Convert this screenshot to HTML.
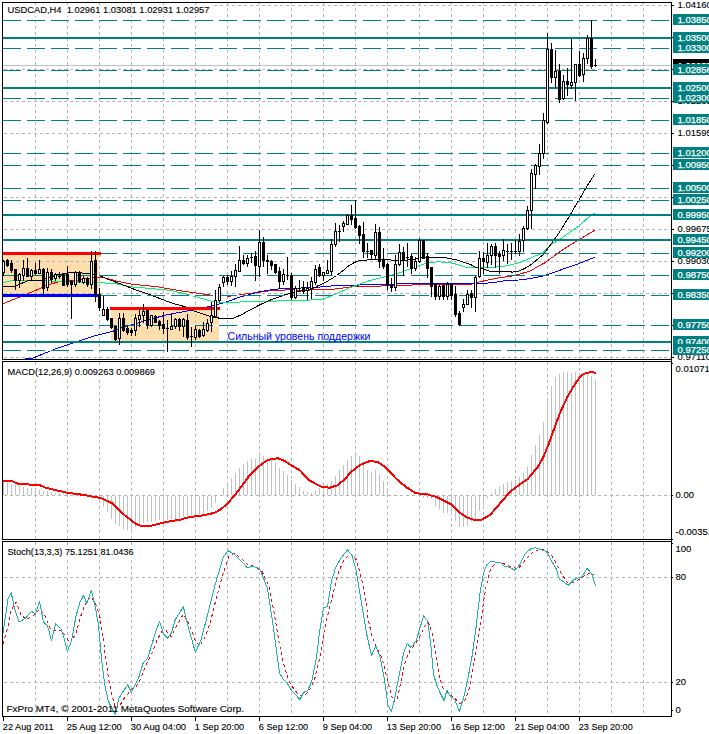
<!DOCTYPE html>
<html><head><meta charset="utf-8"><title>USDCAD,H4</title>
<style>html,body{margin:0;padding:0;background:#fff}text{stroke-width:0.25px}text[fill="#000"]{stroke-width:0.12px}text[fill="#000"]{stroke:#000}text[fill="#fff"]{stroke:#fff}body{width:709px;height:734px;overflow:hidden}</style></head>
<body>
<svg width="709" height="734" viewBox="0 0 709 734" style="display:block;font-family:'Liberation Sans',sans-serif;font-size:9.5px">
<defs><clipPath id="cpm"><rect x="3" y="3" width="668" height="356"/></clipPath></defs>
<rect x="0" y="0" width="709" height="734" fill="#fff"/>
<rect x="3" y="254" width="96" height="40" fill="#fedeaf"/>
<rect x="111" y="309" width="108" height="33" fill="#fedeaf"/>
<g shape-rendering="crispEdges" stroke="#b4b4b4" stroke-width="1" stroke-dasharray="3 3" fill="none">
<line x1="35.5" y1="3" x2="35.5" y2="359" stroke-dashoffset="1"/>
<line x1="35.5" y1="362" x2="35.5" y2="539" stroke-dashoffset="0"/>
<line x1="35.5" y1="542" x2="35.5" y2="716" stroke-dashoffset="0"/>
<line x1="67.5" y1="3" x2="67.5" y2="359" stroke-dashoffset="1"/>
<line x1="67.5" y1="362" x2="67.5" y2="539" stroke-dashoffset="0"/>
<line x1="67.5" y1="542" x2="67.5" y2="716" stroke-dashoffset="0"/>
<line x1="99.5" y1="3" x2="99.5" y2="359" stroke-dashoffset="1"/>
<line x1="99.5" y1="362" x2="99.5" y2="539" stroke-dashoffset="0"/>
<line x1="99.5" y1="542" x2="99.5" y2="716" stroke-dashoffset="0"/>
<line x1="131.5" y1="3" x2="131.5" y2="359" stroke-dashoffset="1"/>
<line x1="131.5" y1="362" x2="131.5" y2="539" stroke-dashoffset="0"/>
<line x1="131.5" y1="542" x2="131.5" y2="716" stroke-dashoffset="0"/>
<line x1="163.5" y1="3" x2="163.5" y2="359" stroke-dashoffset="1"/>
<line x1="163.5" y1="362" x2="163.5" y2="539" stroke-dashoffset="0"/>
<line x1="163.5" y1="542" x2="163.5" y2="716" stroke-dashoffset="0"/>
<line x1="195.5" y1="3" x2="195.5" y2="359" stroke-dashoffset="1"/>
<line x1="195.5" y1="362" x2="195.5" y2="539" stroke-dashoffset="0"/>
<line x1="195.5" y1="542" x2="195.5" y2="716" stroke-dashoffset="0"/>
<line x1="227.5" y1="3" x2="227.5" y2="359" stroke-dashoffset="1"/>
<line x1="227.5" y1="362" x2="227.5" y2="539" stroke-dashoffset="0"/>
<line x1="227.5" y1="542" x2="227.5" y2="716" stroke-dashoffset="0"/>
<line x1="259.5" y1="3" x2="259.5" y2="359" stroke-dashoffset="1"/>
<line x1="259.5" y1="362" x2="259.5" y2="539" stroke-dashoffset="0"/>
<line x1="259.5" y1="542" x2="259.5" y2="716" stroke-dashoffset="0"/>
<line x1="291.5" y1="3" x2="291.5" y2="359" stroke-dashoffset="1"/>
<line x1="291.5" y1="362" x2="291.5" y2="539" stroke-dashoffset="0"/>
<line x1="291.5" y1="542" x2="291.5" y2="716" stroke-dashoffset="0"/>
<line x1="323.5" y1="3" x2="323.5" y2="359" stroke-dashoffset="1"/>
<line x1="323.5" y1="362" x2="323.5" y2="539" stroke-dashoffset="0"/>
<line x1="323.5" y1="542" x2="323.5" y2="716" stroke-dashoffset="0"/>
<line x1="355.5" y1="3" x2="355.5" y2="359" stroke-dashoffset="1"/>
<line x1="355.5" y1="362" x2="355.5" y2="539" stroke-dashoffset="0"/>
<line x1="355.5" y1="542" x2="355.5" y2="716" stroke-dashoffset="0"/>
<line x1="387.5" y1="3" x2="387.5" y2="359" stroke-dashoffset="1"/>
<line x1="387.5" y1="362" x2="387.5" y2="539" stroke-dashoffset="0"/>
<line x1="387.5" y1="542" x2="387.5" y2="716" stroke-dashoffset="0"/>
<line x1="419.5" y1="3" x2="419.5" y2="359" stroke-dashoffset="1"/>
<line x1="419.5" y1="362" x2="419.5" y2="539" stroke-dashoffset="0"/>
<line x1="419.5" y1="542" x2="419.5" y2="716" stroke-dashoffset="0"/>
<line x1="451.5" y1="3" x2="451.5" y2="359" stroke-dashoffset="1"/>
<line x1="451.5" y1="362" x2="451.5" y2="539" stroke-dashoffset="0"/>
<line x1="451.5" y1="542" x2="451.5" y2="716" stroke-dashoffset="0"/>
<line x1="483.5" y1="3" x2="483.5" y2="359" stroke-dashoffset="1"/>
<line x1="483.5" y1="362" x2="483.5" y2="539" stroke-dashoffset="0"/>
<line x1="483.5" y1="542" x2="483.5" y2="716" stroke-dashoffset="0"/>
<line x1="515.5" y1="3" x2="515.5" y2="359" stroke-dashoffset="1"/>
<line x1="515.5" y1="362" x2="515.5" y2="539" stroke-dashoffset="0"/>
<line x1="515.5" y1="542" x2="515.5" y2="716" stroke-dashoffset="0"/>
<line x1="547.5" y1="3" x2="547.5" y2="359" stroke-dashoffset="1"/>
<line x1="547.5" y1="362" x2="547.5" y2="539" stroke-dashoffset="0"/>
<line x1="547.5" y1="542" x2="547.5" y2="716" stroke-dashoffset="0"/>
<line x1="579.5" y1="3" x2="579.5" y2="359" stroke-dashoffset="1"/>
<line x1="579.5" y1="362" x2="579.5" y2="539" stroke-dashoffset="0"/>
<line x1="579.5" y1="542" x2="579.5" y2="716" stroke-dashoffset="0"/>
<line x1="611.5" y1="3" x2="611.5" y2="359" stroke-dashoffset="1"/>
<line x1="611.5" y1="362" x2="611.5" y2="539" stroke-dashoffset="0"/>
<line x1="611.5" y1="542" x2="611.5" y2="716" stroke-dashoffset="0"/>
<line x1="643.5" y1="3" x2="643.5" y2="359" stroke-dashoffset="1"/>
<line x1="643.5" y1="362" x2="643.5" y2="539" stroke-dashoffset="0"/>
<line x1="643.5" y1="542" x2="643.5" y2="716" stroke-dashoffset="0"/>
<line x1="3" y1="5.5" x2="671" y2="5.5" stroke-dashoffset="5"/>
<line x1="3" y1="37.5" x2="671" y2="37.5" stroke-dashoffset="5"/>
<line x1="3" y1="69.5" x2="671" y2="69.5" stroke-dashoffset="5"/>
<line x1="3" y1="101.5" x2="671" y2="101.5" stroke-dashoffset="5"/>
<line x1="3" y1="133.5" x2="671" y2="133.5" stroke-dashoffset="5"/>
<line x1="3" y1="165.5" x2="671" y2="165.5" stroke-dashoffset="5"/>
<line x1="3" y1="197.5" x2="671" y2="197.5" stroke-dashoffset="5"/>
<line x1="3" y1="229.5" x2="671" y2="229.5" stroke-dashoffset="5"/>
<line x1="3" y1="261.5" x2="671" y2="261.5" stroke-dashoffset="5"/>
<line x1="3" y1="293.5" x2="671" y2="293.5" stroke-dashoffset="5"/>
<line x1="3" y1="325.5" x2="671" y2="325.5" stroke-dashoffset="5"/>
<line x1="3" y1="357.5" x2="671" y2="357.5" stroke-dashoffset="5"/>
<line x1="3" y1="495.5" x2="671" y2="495.5" stroke-dashoffset="5"/>
<line x1="3" y1="577.5" x2="671" y2="577.5" stroke-dashoffset="5"/>
<line x1="3" y1="682.5" x2="671" y2="682.5" stroke-dashoffset="5"/>
</g>
<g shape-rendering="crispEdges" stroke-width="1" stroke-dasharray="3 3" fill="none">
<line x1="35.5" y1="255" x2="35.5" y2="294" stroke="#a4e088" stroke-dashoffset="1"/>
<line x1="67.5" y1="255" x2="67.5" y2="294" stroke="#a4e088" stroke-dashoffset="1"/>
<line x1="131.5" y1="310" x2="131.5" y2="342" stroke="#a4e088" stroke-dashoffset="2"/>
<line x1="163.5" y1="310" x2="163.5" y2="342" stroke="#a4e088" stroke-dashoffset="2"/>
<line x1="195.5" y1="310" x2="195.5" y2="342" stroke="#a4e088" stroke-dashoffset="2"/>
<line x1="3" y1="261.5" x2="99" y2="261.5" stroke="#aab4cc" stroke-dashoffset="5"/>
<line x1="3" y1="293.5" x2="99" y2="293.5" stroke="#aab4cc" stroke-dashoffset="5"/>
</g>
<g clip-path="url(#cpm)">
<polyline points="3.0,303.7 18.0,297.7 35.0,290.7 48.0,284.8 60.0,281.5 77.0,280.3 95.0,277.5 103.0,277.5 117.0,281.2 130.0,283.9 158.0,286.9 183.0,291.2 206.0,294.5 210.0,295.0 222.0,295.4 229.0,296.2 236.0,295.5 244.0,294.1 258.0,292.4 271.0,290.6 288.0,289.9 304.0,290.2 334.0,289.2 352.0,286.8 404.0,285.4 418.0,284.7 471.0,284.2 477.0,282.5 490.0,279.5 500.0,277.7 512.0,276.0 521.0,273.7 530.0,271.2 535.0,268.2 545.0,262.7 557.0,253.8 568.7,245.9 578.6,240.0 588.5,234.0 595.0,230.1" fill="none" stroke="#ff0000" stroke-width="1" stroke-linejoin="round" shape-rendering="crispEdges"/>
<polyline points="25.5,358.6 32.0,358.4 41.2,354.7 49.6,351.3 53.9,349.5 62.3,346.7 69.4,344.1 77.8,341.5 86.3,338.6 94.8,335.8 104.6,333.3 113.0,331.2 118.7,328.8 130.0,325.5 138.0,322.9 152.0,318.7 166.0,315.1 180.0,312.3 192.0,310.2 209.0,306.5 225.0,302.5 240.0,297.0 250.0,294.4 258.0,292.0 275.0,289.2 291.0,288.2 312.0,287.8 334.0,285.7 404.0,283.8 440.0,283.3 484.0,283.4 495.0,282.4 505.0,280.7 516.0,280.3 529.0,278.8 545.0,275.5 559.0,270.6 568.7,267.0 578.6,263.7 588.5,259.7 595.0,257.2" fill="none" stroke="#0000ff" stroke-width="1" stroke-linejoin="round" shape-rendering="crispEdges"/>
<polyline points="3.0,282.6 11.0,280.8 37.0,280.3 55.0,281.2 77.0,282.1 99.0,282.6 117.0,283.9 130.0,286.7 150.0,288.5 170.0,290.3 187.0,294.3 204.0,299.1 215.0,302.2 224.0,302.7 250.0,301.6 304.0,300.4 323.0,299.2 336.0,294.0 349.0,288.0 370.0,280.5 385.0,276.7 396.0,274.2 411.0,268.5 426.0,263.2 438.0,261.7 453.0,263.2 466.0,267.3 477.0,267.7 487.0,267.6 504.0,266.3 512.0,264.6 521.0,262.1 529.0,258.7 543.0,252.8 549.0,245.9 559.0,240.0 568.7,233.0 578.6,226.2 588.5,217.3 594.5,212.9" fill="none" stroke="#00f078" stroke-width="1" stroke-linejoin="round" shape-rendering="crispEdges"/>
<polyline points="3.0,286.4 15.0,286.4 19.0,284.5 23.0,282.8 27.0,281.0 40.0,280.8 56.0,275.2 64.0,273.5 73.0,272.5 90.0,273.5 99.0,275.5 107.0,279.0 117.0,282.5 130.0,287.6 136.0,290.0 150.0,294.7 170.0,302.5 185.0,306.7 193.0,310.6 210.0,316.3 220.0,318.3 233.0,318.3 241.0,315.0 250.0,310.0 260.0,304.7 271.0,299.8 285.0,294.8 299.0,291.3 312.0,289.2 317.0,286.2 323.5,283.5 336.0,276.0 343.0,270.7 349.0,265.5 355.0,262.2 359.0,260.8 376.0,259.2 404.0,260.7 426.0,257.2 445.0,257.7 456.0,259.8 470.0,264.2 475.0,267.0 483.0,268.8 490.0,271.4 510.0,271.4 512.0,272.2 519.0,271.0 525.0,268.4 531.0,264.7 543.0,254.8 549.0,246.9 559.0,233.0 568.7,217.3 578.6,200.5 588.5,183.7 595.0,173.8" fill="none" stroke="#000" stroke-width="1" stroke-linejoin="round" shape-rendering="crispEdges"/>
</g>
<g shape-rendering="crispEdges">
<rect x="3" y="20" width="668" height="1" fill="#fff"/>
<rect x="3" y="20" width="18" height="1" fill="#008080"/>
<rect x="27" y="20" width="18" height="1" fill="#008080"/>
<rect x="51" y="20" width="18" height="1" fill="#008080"/>
<rect x="75" y="20" width="18" height="1" fill="#008080"/>
<rect x="99" y="20" width="18" height="1" fill="#008080"/>
<rect x="123" y="20" width="18" height="1" fill="#008080"/>
<rect x="147" y="20" width="18" height="1" fill="#008080"/>
<rect x="171" y="20" width="18" height="1" fill="#008080"/>
<rect x="195" y="20" width="18" height="1" fill="#008080"/>
<rect x="219" y="20" width="18" height="1" fill="#008080"/>
<rect x="243" y="20" width="18" height="1" fill="#008080"/>
<rect x="267" y="20" width="18" height="1" fill="#008080"/>
<rect x="291" y="20" width="18" height="1" fill="#008080"/>
<rect x="315" y="20" width="18" height="1" fill="#008080"/>
<rect x="339" y="20" width="18" height="1" fill="#008080"/>
<rect x="363" y="20" width="18" height="1" fill="#008080"/>
<rect x="387" y="20" width="18" height="1" fill="#008080"/>
<rect x="411" y="20" width="18" height="1" fill="#008080"/>
<rect x="435" y="20" width="18" height="1" fill="#008080"/>
<rect x="459" y="20" width="18" height="1" fill="#008080"/>
<rect x="483" y="20" width="18" height="1" fill="#008080"/>
<rect x="507" y="20" width="18" height="1" fill="#008080"/>
<rect x="531" y="20" width="18" height="1" fill="#008080"/>
<rect x="555" y="20" width="18" height="1" fill="#008080"/>
<rect x="579" y="20" width="18" height="1" fill="#008080"/>
<rect x="603" y="20" width="18" height="1" fill="#008080"/>
<rect x="627" y="20" width="18" height="1" fill="#008080"/>
<rect x="651" y="20" width="18" height="1" fill="#008080"/>
<rect x="3" y="48" width="668" height="1" fill="#fff"/>
<rect x="3" y="48" width="18" height="1" fill="#008080"/>
<rect x="27" y="48" width="18" height="1" fill="#008080"/>
<rect x="51" y="48" width="18" height="1" fill="#008080"/>
<rect x="75" y="48" width="18" height="1" fill="#008080"/>
<rect x="99" y="48" width="18" height="1" fill="#008080"/>
<rect x="123" y="48" width="18" height="1" fill="#008080"/>
<rect x="147" y="48" width="18" height="1" fill="#008080"/>
<rect x="171" y="48" width="18" height="1" fill="#008080"/>
<rect x="195" y="48" width="18" height="1" fill="#008080"/>
<rect x="219" y="48" width="18" height="1" fill="#008080"/>
<rect x="243" y="48" width="18" height="1" fill="#008080"/>
<rect x="267" y="48" width="18" height="1" fill="#008080"/>
<rect x="291" y="48" width="18" height="1" fill="#008080"/>
<rect x="315" y="48" width="18" height="1" fill="#008080"/>
<rect x="339" y="48" width="18" height="1" fill="#008080"/>
<rect x="363" y="48" width="18" height="1" fill="#008080"/>
<rect x="387" y="48" width="18" height="1" fill="#008080"/>
<rect x="411" y="48" width="18" height="1" fill="#008080"/>
<rect x="435" y="48" width="18" height="1" fill="#008080"/>
<rect x="459" y="48" width="18" height="1" fill="#008080"/>
<rect x="483" y="48" width="18" height="1" fill="#008080"/>
<rect x="507" y="48" width="18" height="1" fill="#008080"/>
<rect x="531" y="48" width="18" height="1" fill="#008080"/>
<rect x="555" y="48" width="18" height="1" fill="#008080"/>
<rect x="579" y="48" width="18" height="1" fill="#008080"/>
<rect x="603" y="48" width="18" height="1" fill="#008080"/>
<rect x="627" y="48" width="18" height="1" fill="#008080"/>
<rect x="651" y="48" width="18" height="1" fill="#008080"/>
<rect x="3" y="70" width="668" height="1" fill="#fff"/>
<rect x="3" y="70" width="18" height="1" fill="#008080"/>
<rect x="27" y="70" width="18" height="1" fill="#008080"/>
<rect x="51" y="70" width="18" height="1" fill="#008080"/>
<rect x="75" y="70" width="18" height="1" fill="#008080"/>
<rect x="99" y="70" width="18" height="1" fill="#008080"/>
<rect x="123" y="70" width="18" height="1" fill="#008080"/>
<rect x="147" y="70" width="18" height="1" fill="#008080"/>
<rect x="171" y="70" width="18" height="1" fill="#008080"/>
<rect x="195" y="70" width="18" height="1" fill="#008080"/>
<rect x="219" y="70" width="18" height="1" fill="#008080"/>
<rect x="243" y="70" width="18" height="1" fill="#008080"/>
<rect x="267" y="70" width="18" height="1" fill="#008080"/>
<rect x="291" y="70" width="18" height="1" fill="#008080"/>
<rect x="315" y="70" width="18" height="1" fill="#008080"/>
<rect x="339" y="70" width="18" height="1" fill="#008080"/>
<rect x="363" y="70" width="18" height="1" fill="#008080"/>
<rect x="387" y="70" width="18" height="1" fill="#008080"/>
<rect x="411" y="70" width="18" height="1" fill="#008080"/>
<rect x="435" y="70" width="18" height="1" fill="#008080"/>
<rect x="459" y="70" width="18" height="1" fill="#008080"/>
<rect x="483" y="70" width="18" height="1" fill="#008080"/>
<rect x="507" y="70" width="18" height="1" fill="#008080"/>
<rect x="531" y="70" width="18" height="1" fill="#008080"/>
<rect x="555" y="70" width="18" height="1" fill="#008080"/>
<rect x="579" y="70" width="18" height="1" fill="#008080"/>
<rect x="603" y="70" width="18" height="1" fill="#008080"/>
<rect x="627" y="70" width="18" height="1" fill="#008080"/>
<rect x="651" y="70" width="18" height="1" fill="#008080"/>
<rect x="3" y="98" width="668" height="1" fill="#fff"/>
<rect x="3" y="98" width="18" height="1" fill="#008080"/>
<rect x="27" y="98" width="18" height="1" fill="#008080"/>
<rect x="51" y="98" width="18" height="1" fill="#008080"/>
<rect x="75" y="98" width="18" height="1" fill="#008080"/>
<rect x="99" y="98" width="18" height="1" fill="#008080"/>
<rect x="123" y="98" width="18" height="1" fill="#008080"/>
<rect x="147" y="98" width="18" height="1" fill="#008080"/>
<rect x="171" y="98" width="18" height="1" fill="#008080"/>
<rect x="195" y="98" width="18" height="1" fill="#008080"/>
<rect x="219" y="98" width="18" height="1" fill="#008080"/>
<rect x="243" y="98" width="18" height="1" fill="#008080"/>
<rect x="267" y="98" width="18" height="1" fill="#008080"/>
<rect x="291" y="98" width="18" height="1" fill="#008080"/>
<rect x="315" y="98" width="18" height="1" fill="#008080"/>
<rect x="339" y="98" width="18" height="1" fill="#008080"/>
<rect x="363" y="98" width="18" height="1" fill="#008080"/>
<rect x="387" y="98" width="18" height="1" fill="#008080"/>
<rect x="411" y="98" width="18" height="1" fill="#008080"/>
<rect x="435" y="98" width="18" height="1" fill="#008080"/>
<rect x="459" y="98" width="18" height="1" fill="#008080"/>
<rect x="483" y="98" width="18" height="1" fill="#008080"/>
<rect x="507" y="98" width="18" height="1" fill="#008080"/>
<rect x="531" y="98" width="18" height="1" fill="#008080"/>
<rect x="555" y="98" width="18" height="1" fill="#008080"/>
<rect x="579" y="98" width="18" height="1" fill="#008080"/>
<rect x="603" y="98" width="18" height="1" fill="#008080"/>
<rect x="627" y="98" width="18" height="1" fill="#008080"/>
<rect x="651" y="98" width="18" height="1" fill="#008080"/>
<rect x="3" y="120" width="668" height="1" fill="#fff"/>
<rect x="3" y="120" width="18" height="1" fill="#008080"/>
<rect x="27" y="120" width="18" height="1" fill="#008080"/>
<rect x="51" y="120" width="18" height="1" fill="#008080"/>
<rect x="75" y="120" width="18" height="1" fill="#008080"/>
<rect x="99" y="120" width="18" height="1" fill="#008080"/>
<rect x="123" y="120" width="18" height="1" fill="#008080"/>
<rect x="147" y="120" width="18" height="1" fill="#008080"/>
<rect x="171" y="120" width="18" height="1" fill="#008080"/>
<rect x="195" y="120" width="18" height="1" fill="#008080"/>
<rect x="219" y="120" width="18" height="1" fill="#008080"/>
<rect x="243" y="120" width="18" height="1" fill="#008080"/>
<rect x="267" y="120" width="18" height="1" fill="#008080"/>
<rect x="291" y="120" width="18" height="1" fill="#008080"/>
<rect x="315" y="120" width="18" height="1" fill="#008080"/>
<rect x="339" y="120" width="18" height="1" fill="#008080"/>
<rect x="363" y="120" width="18" height="1" fill="#008080"/>
<rect x="387" y="120" width="18" height="1" fill="#008080"/>
<rect x="411" y="120" width="18" height="1" fill="#008080"/>
<rect x="435" y="120" width="18" height="1" fill="#008080"/>
<rect x="459" y="120" width="18" height="1" fill="#008080"/>
<rect x="483" y="120" width="18" height="1" fill="#008080"/>
<rect x="507" y="120" width="18" height="1" fill="#008080"/>
<rect x="531" y="120" width="18" height="1" fill="#008080"/>
<rect x="555" y="120" width="18" height="1" fill="#008080"/>
<rect x="579" y="120" width="18" height="1" fill="#008080"/>
<rect x="603" y="120" width="18" height="1" fill="#008080"/>
<rect x="627" y="120" width="18" height="1" fill="#008080"/>
<rect x="651" y="120" width="18" height="1" fill="#008080"/>
<rect x="3" y="153" width="668" height="1" fill="#fff"/>
<rect x="3" y="153" width="18" height="1" fill="#008080"/>
<rect x="27" y="153" width="18" height="1" fill="#008080"/>
<rect x="51" y="153" width="18" height="1" fill="#008080"/>
<rect x="75" y="153" width="18" height="1" fill="#008080"/>
<rect x="99" y="153" width="18" height="1" fill="#008080"/>
<rect x="123" y="153" width="18" height="1" fill="#008080"/>
<rect x="147" y="153" width="18" height="1" fill="#008080"/>
<rect x="171" y="153" width="18" height="1" fill="#008080"/>
<rect x="195" y="153" width="18" height="1" fill="#008080"/>
<rect x="219" y="153" width="18" height="1" fill="#008080"/>
<rect x="243" y="153" width="18" height="1" fill="#008080"/>
<rect x="267" y="153" width="18" height="1" fill="#008080"/>
<rect x="291" y="153" width="18" height="1" fill="#008080"/>
<rect x="315" y="153" width="18" height="1" fill="#008080"/>
<rect x="339" y="153" width="18" height="1" fill="#008080"/>
<rect x="363" y="153" width="18" height="1" fill="#008080"/>
<rect x="387" y="153" width="18" height="1" fill="#008080"/>
<rect x="411" y="153" width="18" height="1" fill="#008080"/>
<rect x="435" y="153" width="18" height="1" fill="#008080"/>
<rect x="459" y="153" width="18" height="1" fill="#008080"/>
<rect x="483" y="153" width="18" height="1" fill="#008080"/>
<rect x="507" y="153" width="18" height="1" fill="#008080"/>
<rect x="531" y="153" width="18" height="1" fill="#008080"/>
<rect x="555" y="153" width="18" height="1" fill="#008080"/>
<rect x="579" y="153" width="18" height="1" fill="#008080"/>
<rect x="603" y="153" width="18" height="1" fill="#008080"/>
<rect x="627" y="153" width="18" height="1" fill="#008080"/>
<rect x="651" y="153" width="18" height="1" fill="#008080"/>
<rect x="3" y="165" width="668" height="1" fill="#fff"/>
<rect x="3" y="165" width="18" height="1" fill="#008080"/>
<rect x="27" y="165" width="18" height="1" fill="#008080"/>
<rect x="51" y="165" width="18" height="1" fill="#008080"/>
<rect x="75" y="165" width="18" height="1" fill="#008080"/>
<rect x="99" y="165" width="18" height="1" fill="#008080"/>
<rect x="123" y="165" width="18" height="1" fill="#008080"/>
<rect x="147" y="165" width="18" height="1" fill="#008080"/>
<rect x="171" y="165" width="18" height="1" fill="#008080"/>
<rect x="195" y="165" width="18" height="1" fill="#008080"/>
<rect x="219" y="165" width="18" height="1" fill="#008080"/>
<rect x="243" y="165" width="18" height="1" fill="#008080"/>
<rect x="267" y="165" width="18" height="1" fill="#008080"/>
<rect x="291" y="165" width="18" height="1" fill="#008080"/>
<rect x="315" y="165" width="18" height="1" fill="#008080"/>
<rect x="339" y="165" width="18" height="1" fill="#008080"/>
<rect x="363" y="165" width="18" height="1" fill="#008080"/>
<rect x="387" y="165" width="18" height="1" fill="#008080"/>
<rect x="411" y="165" width="18" height="1" fill="#008080"/>
<rect x="435" y="165" width="18" height="1" fill="#008080"/>
<rect x="459" y="165" width="18" height="1" fill="#008080"/>
<rect x="483" y="165" width="18" height="1" fill="#008080"/>
<rect x="507" y="165" width="18" height="1" fill="#008080"/>
<rect x="531" y="165" width="18" height="1" fill="#008080"/>
<rect x="555" y="165" width="18" height="1" fill="#008080"/>
<rect x="579" y="165" width="18" height="1" fill="#008080"/>
<rect x="603" y="165" width="18" height="1" fill="#008080"/>
<rect x="627" y="165" width="18" height="1" fill="#008080"/>
<rect x="651" y="165" width="18" height="1" fill="#008080"/>
<rect x="3" y="188" width="668" height="1" fill="#fff"/>
<rect x="3" y="188" width="18" height="1" fill="#008080"/>
<rect x="27" y="188" width="18" height="1" fill="#008080"/>
<rect x="51" y="188" width="18" height="1" fill="#008080"/>
<rect x="75" y="188" width="18" height="1" fill="#008080"/>
<rect x="99" y="188" width="18" height="1" fill="#008080"/>
<rect x="123" y="188" width="18" height="1" fill="#008080"/>
<rect x="147" y="188" width="18" height="1" fill="#008080"/>
<rect x="171" y="188" width="18" height="1" fill="#008080"/>
<rect x="195" y="188" width="18" height="1" fill="#008080"/>
<rect x="219" y="188" width="18" height="1" fill="#008080"/>
<rect x="243" y="188" width="18" height="1" fill="#008080"/>
<rect x="267" y="188" width="18" height="1" fill="#008080"/>
<rect x="291" y="188" width="18" height="1" fill="#008080"/>
<rect x="315" y="188" width="18" height="1" fill="#008080"/>
<rect x="339" y="188" width="18" height="1" fill="#008080"/>
<rect x="363" y="188" width="18" height="1" fill="#008080"/>
<rect x="387" y="188" width="18" height="1" fill="#008080"/>
<rect x="411" y="188" width="18" height="1" fill="#008080"/>
<rect x="435" y="188" width="18" height="1" fill="#008080"/>
<rect x="459" y="188" width="18" height="1" fill="#008080"/>
<rect x="483" y="188" width="18" height="1" fill="#008080"/>
<rect x="507" y="188" width="18" height="1" fill="#008080"/>
<rect x="531" y="188" width="18" height="1" fill="#008080"/>
<rect x="555" y="188" width="18" height="1" fill="#008080"/>
<rect x="579" y="188" width="18" height="1" fill="#008080"/>
<rect x="603" y="188" width="18" height="1" fill="#008080"/>
<rect x="627" y="188" width="18" height="1" fill="#008080"/>
<rect x="651" y="188" width="18" height="1" fill="#008080"/>
<rect x="3" y="200" width="668" height="1" fill="#fff"/>
<rect x="3" y="200" width="18" height="1" fill="#008080"/>
<rect x="27" y="200" width="18" height="1" fill="#008080"/>
<rect x="51" y="200" width="18" height="1" fill="#008080"/>
<rect x="75" y="200" width="18" height="1" fill="#008080"/>
<rect x="99" y="200" width="18" height="1" fill="#008080"/>
<rect x="123" y="200" width="18" height="1" fill="#008080"/>
<rect x="147" y="200" width="18" height="1" fill="#008080"/>
<rect x="171" y="200" width="18" height="1" fill="#008080"/>
<rect x="195" y="200" width="18" height="1" fill="#008080"/>
<rect x="219" y="200" width="18" height="1" fill="#008080"/>
<rect x="243" y="200" width="18" height="1" fill="#008080"/>
<rect x="267" y="200" width="18" height="1" fill="#008080"/>
<rect x="291" y="200" width="18" height="1" fill="#008080"/>
<rect x="315" y="200" width="18" height="1" fill="#008080"/>
<rect x="339" y="200" width="18" height="1" fill="#008080"/>
<rect x="363" y="200" width="18" height="1" fill="#008080"/>
<rect x="387" y="200" width="18" height="1" fill="#008080"/>
<rect x="411" y="200" width="18" height="1" fill="#008080"/>
<rect x="435" y="200" width="18" height="1" fill="#008080"/>
<rect x="459" y="200" width="18" height="1" fill="#008080"/>
<rect x="483" y="200" width="18" height="1" fill="#008080"/>
<rect x="507" y="200" width="18" height="1" fill="#008080"/>
<rect x="531" y="200" width="18" height="1" fill="#008080"/>
<rect x="555" y="200" width="18" height="1" fill="#008080"/>
<rect x="579" y="200" width="18" height="1" fill="#008080"/>
<rect x="603" y="200" width="18" height="1" fill="#008080"/>
<rect x="627" y="200" width="18" height="1" fill="#008080"/>
<rect x="651" y="200" width="18" height="1" fill="#008080"/>
<rect x="3" y="253" width="668" height="1" fill="#fff"/>
<rect x="3" y="253" width="18" height="1" fill="#008080"/>
<rect x="27" y="253" width="18" height="1" fill="#008080"/>
<rect x="51" y="253" width="18" height="1" fill="#008080"/>
<rect x="75" y="253" width="18" height="1" fill="#008080"/>
<rect x="99" y="253" width="18" height="1" fill="#008080"/>
<rect x="123" y="253" width="18" height="1" fill="#008080"/>
<rect x="147" y="253" width="18" height="1" fill="#008080"/>
<rect x="171" y="253" width="18" height="1" fill="#008080"/>
<rect x="195" y="253" width="18" height="1" fill="#008080"/>
<rect x="219" y="253" width="18" height="1" fill="#008080"/>
<rect x="243" y="253" width="18" height="1" fill="#008080"/>
<rect x="267" y="253" width="18" height="1" fill="#008080"/>
<rect x="291" y="253" width="18" height="1" fill="#008080"/>
<rect x="315" y="253" width="18" height="1" fill="#008080"/>
<rect x="339" y="253" width="18" height="1" fill="#008080"/>
<rect x="363" y="253" width="18" height="1" fill="#008080"/>
<rect x="387" y="253" width="18" height="1" fill="#008080"/>
<rect x="411" y="253" width="18" height="1" fill="#008080"/>
<rect x="435" y="253" width="18" height="1" fill="#008080"/>
<rect x="459" y="253" width="18" height="1" fill="#008080"/>
<rect x="483" y="253" width="18" height="1" fill="#008080"/>
<rect x="507" y="253" width="18" height="1" fill="#008080"/>
<rect x="531" y="253" width="18" height="1" fill="#008080"/>
<rect x="555" y="253" width="18" height="1" fill="#008080"/>
<rect x="579" y="253" width="18" height="1" fill="#008080"/>
<rect x="603" y="253" width="18" height="1" fill="#008080"/>
<rect x="627" y="253" width="18" height="1" fill="#008080"/>
<rect x="651" y="253" width="18" height="1" fill="#008080"/>
<rect x="3" y="275" width="668" height="1" fill="#fff"/>
<rect x="3" y="275" width="18" height="1" fill="#008080"/>
<rect x="27" y="275" width="18" height="1" fill="#008080"/>
<rect x="51" y="275" width="18" height="1" fill="#008080"/>
<rect x="75" y="275" width="18" height="1" fill="#008080"/>
<rect x="99" y="275" width="18" height="1" fill="#008080"/>
<rect x="123" y="275" width="18" height="1" fill="#008080"/>
<rect x="147" y="275" width="18" height="1" fill="#008080"/>
<rect x="171" y="275" width="18" height="1" fill="#008080"/>
<rect x="195" y="275" width="18" height="1" fill="#008080"/>
<rect x="219" y="275" width="18" height="1" fill="#008080"/>
<rect x="243" y="275" width="18" height="1" fill="#008080"/>
<rect x="267" y="275" width="18" height="1" fill="#008080"/>
<rect x="291" y="275" width="18" height="1" fill="#008080"/>
<rect x="315" y="275" width="18" height="1" fill="#008080"/>
<rect x="339" y="275" width="18" height="1" fill="#008080"/>
<rect x="363" y="275" width="18" height="1" fill="#008080"/>
<rect x="387" y="275" width="18" height="1" fill="#008080"/>
<rect x="411" y="275" width="18" height="1" fill="#008080"/>
<rect x="435" y="275" width="18" height="1" fill="#008080"/>
<rect x="459" y="275" width="18" height="1" fill="#008080"/>
<rect x="483" y="275" width="18" height="1" fill="#008080"/>
<rect x="507" y="275" width="18" height="1" fill="#008080"/>
<rect x="531" y="275" width="18" height="1" fill="#008080"/>
<rect x="555" y="275" width="18" height="1" fill="#008080"/>
<rect x="579" y="275" width="18" height="1" fill="#008080"/>
<rect x="603" y="275" width="18" height="1" fill="#008080"/>
<rect x="627" y="275" width="18" height="1" fill="#008080"/>
<rect x="651" y="275" width="18" height="1" fill="#008080"/>
<rect x="3" y="295" width="668" height="1" fill="#fff"/>
<rect x="3" y="295" width="18" height="1" fill="#008080"/>
<rect x="27" y="295" width="18" height="1" fill="#008080"/>
<rect x="51" y="295" width="18" height="1" fill="#008080"/>
<rect x="75" y="295" width="18" height="1" fill="#008080"/>
<rect x="99" y="295" width="18" height="1" fill="#008080"/>
<rect x="123" y="295" width="18" height="1" fill="#008080"/>
<rect x="147" y="295" width="18" height="1" fill="#008080"/>
<rect x="171" y="295" width="18" height="1" fill="#008080"/>
<rect x="195" y="295" width="18" height="1" fill="#008080"/>
<rect x="219" y="295" width="18" height="1" fill="#008080"/>
<rect x="243" y="295" width="18" height="1" fill="#008080"/>
<rect x="267" y="295" width="18" height="1" fill="#008080"/>
<rect x="291" y="295" width="18" height="1" fill="#008080"/>
<rect x="315" y="295" width="18" height="1" fill="#008080"/>
<rect x="339" y="295" width="18" height="1" fill="#008080"/>
<rect x="363" y="295" width="18" height="1" fill="#008080"/>
<rect x="387" y="295" width="18" height="1" fill="#008080"/>
<rect x="411" y="295" width="18" height="1" fill="#008080"/>
<rect x="435" y="295" width="18" height="1" fill="#008080"/>
<rect x="459" y="295" width="18" height="1" fill="#008080"/>
<rect x="483" y="295" width="18" height="1" fill="#008080"/>
<rect x="507" y="295" width="18" height="1" fill="#008080"/>
<rect x="531" y="295" width="18" height="1" fill="#008080"/>
<rect x="555" y="295" width="18" height="1" fill="#008080"/>
<rect x="579" y="295" width="18" height="1" fill="#008080"/>
<rect x="603" y="295" width="18" height="1" fill="#008080"/>
<rect x="627" y="295" width="18" height="1" fill="#008080"/>
<rect x="651" y="295" width="18" height="1" fill="#008080"/>
<rect x="3" y="325" width="668" height="1" fill="#fff"/>
<rect x="3" y="325" width="18" height="1" fill="#008080"/>
<rect x="27" y="325" width="18" height="1" fill="#008080"/>
<rect x="51" y="325" width="18" height="1" fill="#008080"/>
<rect x="75" y="325" width="18" height="1" fill="#008080"/>
<rect x="99" y="325" width="18" height="1" fill="#008080"/>
<rect x="123" y="325" width="18" height="1" fill="#008080"/>
<rect x="147" y="325" width="18" height="1" fill="#008080"/>
<rect x="171" y="325" width="18" height="1" fill="#008080"/>
<rect x="195" y="325" width="18" height="1" fill="#008080"/>
<rect x="219" y="325" width="18" height="1" fill="#008080"/>
<rect x="243" y="325" width="18" height="1" fill="#008080"/>
<rect x="267" y="325" width="18" height="1" fill="#008080"/>
<rect x="291" y="325" width="18" height="1" fill="#008080"/>
<rect x="315" y="325" width="18" height="1" fill="#008080"/>
<rect x="339" y="325" width="18" height="1" fill="#008080"/>
<rect x="363" y="325" width="18" height="1" fill="#008080"/>
<rect x="387" y="325" width="18" height="1" fill="#008080"/>
<rect x="411" y="325" width="18" height="1" fill="#008080"/>
<rect x="435" y="325" width="18" height="1" fill="#008080"/>
<rect x="459" y="325" width="18" height="1" fill="#008080"/>
<rect x="483" y="325" width="18" height="1" fill="#008080"/>
<rect x="507" y="325" width="18" height="1" fill="#008080"/>
<rect x="531" y="325" width="18" height="1" fill="#008080"/>
<rect x="555" y="325" width="18" height="1" fill="#008080"/>
<rect x="579" y="325" width="18" height="1" fill="#008080"/>
<rect x="603" y="325" width="18" height="1" fill="#008080"/>
<rect x="627" y="325" width="18" height="1" fill="#008080"/>
<rect x="651" y="325" width="18" height="1" fill="#008080"/>
<rect x="3" y="350" width="668" height="1" fill="#fff"/>
<rect x="3" y="350" width="18" height="1" fill="#008080"/>
<rect x="27" y="350" width="18" height="1" fill="#008080"/>
<rect x="51" y="350" width="18" height="1" fill="#008080"/>
<rect x="75" y="350" width="18" height="1" fill="#008080"/>
<rect x="99" y="350" width="18" height="1" fill="#008080"/>
<rect x="123" y="350" width="18" height="1" fill="#008080"/>
<rect x="147" y="350" width="18" height="1" fill="#008080"/>
<rect x="171" y="350" width="18" height="1" fill="#008080"/>
<rect x="195" y="350" width="18" height="1" fill="#008080"/>
<rect x="219" y="350" width="18" height="1" fill="#008080"/>
<rect x="243" y="350" width="18" height="1" fill="#008080"/>
<rect x="267" y="350" width="18" height="1" fill="#008080"/>
<rect x="291" y="350" width="18" height="1" fill="#008080"/>
<rect x="315" y="350" width="18" height="1" fill="#008080"/>
<rect x="339" y="350" width="18" height="1" fill="#008080"/>
<rect x="363" y="350" width="18" height="1" fill="#008080"/>
<rect x="387" y="350" width="18" height="1" fill="#008080"/>
<rect x="411" y="350" width="18" height="1" fill="#008080"/>
<rect x="435" y="350" width="18" height="1" fill="#008080"/>
<rect x="459" y="350" width="18" height="1" fill="#008080"/>
<rect x="483" y="350" width="18" height="1" fill="#008080"/>
<rect x="507" y="350" width="18" height="1" fill="#008080"/>
<rect x="531" y="350" width="18" height="1" fill="#008080"/>
<rect x="555" y="350" width="18" height="1" fill="#008080"/>
<rect x="579" y="350" width="18" height="1" fill="#008080"/>
<rect x="603" y="350" width="18" height="1" fill="#008080"/>
<rect x="627" y="350" width="18" height="1" fill="#008080"/>
<rect x="651" y="350" width="18" height="1" fill="#008080"/>
<rect x="3" y="37" width="668" height="2" fill="#008080"/>
<rect x="3" y="87" width="668" height="2" fill="#008080"/>
<rect x="3" y="214" width="668" height="2" fill="#008080"/>
<rect x="3" y="239" width="668" height="2" fill="#008080"/>
<rect x="3" y="341" width="668" height="2" fill="#008080"/>
<rect x="3" y="65" width="668" height="1" fill="#c0c0c0"/>
<rect x="3" y="252" width="98" height="3" fill="#ff0000"/>
<rect x="3" y="294" width="97" height="3" fill="#0000ff"/>
<rect x="110" y="307" width="110" height="3" fill="#ff0000"/>
</g>
<g shape-rendering="crispEdges">
<rect x="3" y="260" width="1" height="16" fill="#000"/>
<rect x="2" y="261" width="3" height="12" fill="#000"/>
<rect x="3" y="262" width="1" height="10" fill="#fff"/>
<rect x="7" y="259" width="1" height="8" fill="#000"/>
<rect x="6" y="260" width="3" height="6" fill="#000"/>
<rect x="11" y="260" width="1" height="13" fill="#000"/>
<rect x="10" y="263" width="3" height="8" fill="#000"/>
<rect x="15" y="269" width="1" height="21" fill="#000"/>
<rect x="14" y="269" width="3" height="12" fill="#000"/>
<rect x="19" y="273" width="1" height="15" fill="#000"/>
<rect x="18" y="274" width="3" height="7" fill="#000"/>
<rect x="19" y="275" width="1" height="5" fill="#fff"/>
<rect x="23" y="260" width="1" height="21" fill="#000"/>
<rect x="22" y="268" width="3" height="8" fill="#000"/>
<rect x="23" y="269" width="1" height="6" fill="#fff"/>
<rect x="27" y="258" width="1" height="19" fill="#000"/>
<rect x="26" y="268" width="3" height="9" fill="#000"/>
<rect x="31" y="269" width="1" height="12" fill="#000"/>
<rect x="30" y="270" width="3" height="7" fill="#000"/>
<rect x="31" y="271" width="1" height="5" fill="#fff"/>
<rect x="35" y="263" width="1" height="12" fill="#000"/>
<rect x="34" y="270" width="3" height="4" fill="#000"/>
<rect x="39" y="260" width="1" height="14" fill="#000"/>
<rect x="38" y="269" width="3" height="5" fill="#000"/>
<rect x="39" y="270" width="1" height="3" fill="#fff"/>
<rect x="43" y="268" width="1" height="27" fill="#000"/>
<rect x="42" y="269" width="3" height="20" fill="#000"/>
<rect x="47" y="268" width="1" height="23" fill="#000"/>
<rect x="46" y="272" width="3" height="16" fill="#000"/>
<rect x="47" y="273" width="1" height="14" fill="#fff"/>
<rect x="51" y="269" width="1" height="14" fill="#000"/>
<rect x="50" y="272" width="3" height="8" fill="#000"/>
<rect x="55" y="273" width="1" height="8" fill="#000"/>
<rect x="54" y="274" width="3" height="5" fill="#000"/>
<rect x="55" y="275" width="1" height="3" fill="#fff"/>
<rect x="59" y="272" width="1" height="7" fill="#000"/>
<rect x="58" y="276" width="3" height="1" fill="#000"/>
<rect x="63" y="274" width="1" height="12" fill="#000"/>
<rect x="62" y="274" width="3" height="12" fill="#000"/>
<rect x="67" y="266" width="1" height="21" fill="#000"/>
<rect x="66" y="274" width="3" height="11" fill="#000"/>
<rect x="71" y="280" width="1" height="39" fill="#000"/>
<rect x="70" y="281" width="3" height="4" fill="#000"/>
<rect x="75" y="271" width="1" height="16" fill="#000"/>
<rect x="74" y="272" width="3" height="13" fill="#000"/>
<rect x="75" y="273" width="1" height="11" fill="#fff"/>
<rect x="79" y="271" width="1" height="12" fill="#000"/>
<rect x="78" y="272" width="3" height="10" fill="#000"/>
<rect x="83" y="276" width="1" height="8" fill="#000"/>
<rect x="82" y="278" width="3" height="5" fill="#000"/>
<rect x="83" y="279" width="1" height="3" fill="#fff"/>
<rect x="87" y="277" width="1" height="10" fill="#000"/>
<rect x="86" y="278" width="3" height="7" fill="#000"/>
<rect x="91" y="251" width="1" height="38" fill="#000"/>
<rect x="90" y="261" width="3" height="24" fill="#000"/>
<rect x="91" y="262" width="1" height="22" fill="#fff"/>
<rect x="95" y="251" width="1" height="51" fill="#000"/>
<rect x="94" y="260" width="3" height="35" fill="#000"/>
<rect x="99" y="288" width="1" height="23" fill="#000"/>
<rect x="98" y="294" width="3" height="14" fill="#000"/>
<rect x="103" y="296" width="1" height="20" fill="#000"/>
<rect x="102" y="309" width="3" height="7" fill="#000"/>
<rect x="103" y="310" width="1" height="5" fill="#fff"/>
<rect x="107" y="307" width="1" height="14" fill="#000"/>
<rect x="106" y="309" width="3" height="11" fill="#000"/>
<rect x="111" y="318" width="1" height="11" fill="#000"/>
<rect x="110" y="318" width="3" height="10" fill="#000"/>
<rect x="115" y="326" width="1" height="15" fill="#000"/>
<rect x="114" y="326" width="3" height="14" fill="#000"/>
<rect x="119" y="313" width="1" height="32" fill="#000"/>
<rect x="118" y="318" width="3" height="21" fill="#000"/>
<rect x="119" y="319" width="1" height="19" fill="#fff"/>
<rect x="123" y="313" width="1" height="19" fill="#000"/>
<rect x="122" y="318" width="3" height="13" fill="#000"/>
<rect x="127" y="325" width="1" height="10" fill="#000"/>
<rect x="126" y="328" width="3" height="5" fill="#000"/>
<rect x="131" y="328" width="1" height="8" fill="#000"/>
<rect x="130" y="330" width="3" height="3" fill="#000"/>
<rect x="135" y="314" width="1" height="22" fill="#000"/>
<rect x="134" y="318" width="3" height="13" fill="#000"/>
<rect x="135" y="319" width="1" height="11" fill="#fff"/>
<rect x="139" y="310" width="1" height="17" fill="#000"/>
<rect x="138" y="315" width="3" height="5" fill="#000"/>
<rect x="139" y="316" width="1" height="3" fill="#fff"/>
<rect x="143" y="304" width="1" height="19" fill="#000"/>
<rect x="142" y="311" width="3" height="5" fill="#000"/>
<rect x="143" y="312" width="1" height="3" fill="#fff"/>
<rect x="147" y="310" width="1" height="19" fill="#000"/>
<rect x="146" y="310" width="3" height="16" fill="#000"/>
<rect x="151" y="315" width="1" height="12" fill="#000"/>
<rect x="150" y="315" width="3" height="11" fill="#000"/>
<rect x="151" y="316" width="1" height="9" fill="#fff"/>
<rect x="155" y="315" width="1" height="8" fill="#000"/>
<rect x="154" y="316" width="3" height="7" fill="#000"/>
<rect x="159" y="320" width="1" height="10" fill="#000"/>
<rect x="158" y="321" width="3" height="5" fill="#000"/>
<rect x="163" y="312" width="1" height="22" fill="#000"/>
<rect x="162" y="324" width="3" height="5" fill="#000"/>
<rect x="167" y="320" width="1" height="32" fill="#000"/>
<rect x="166" y="328" width="3" height="1" fill="#000"/>
<rect x="171" y="314" width="1" height="16" fill="#000"/>
<rect x="170" y="326" width="3" height="4" fill="#000"/>
<rect x="171" y="327" width="1" height="2" fill="#fff"/>
<rect x="175" y="318" width="1" height="11" fill="#000"/>
<rect x="174" y="319" width="3" height="8" fill="#000"/>
<rect x="175" y="320" width="1" height="6" fill="#fff"/>
<rect x="179" y="318" width="1" height="13" fill="#000"/>
<rect x="178" y="319" width="3" height="8" fill="#000"/>
<rect x="183" y="318" width="1" height="19" fill="#000"/>
<rect x="182" y="319" width="3" height="8" fill="#000"/>
<rect x="183" y="320" width="1" height="6" fill="#fff"/>
<rect x="187" y="314" width="1" height="26" fill="#000"/>
<rect x="186" y="320" width="3" height="18" fill="#000"/>
<rect x="191" y="327" width="1" height="20" fill="#000"/>
<rect x="190" y="336" width="3" height="1" fill="#000"/>
<rect x="195" y="326" width="1" height="14" fill="#000"/>
<rect x="194" y="329" width="3" height="9" fill="#000"/>
<rect x="195" y="330" width="1" height="7" fill="#fff"/>
<rect x="199" y="329" width="1" height="9" fill="#000"/>
<rect x="198" y="330" width="3" height="7" fill="#000"/>
<rect x="203" y="322" width="1" height="15" fill="#000"/>
<rect x="202" y="329" width="3" height="7" fill="#000"/>
<rect x="203" y="330" width="1" height="5" fill="#fff"/>
<rect x="207" y="319" width="1" height="13" fill="#000"/>
<rect x="206" y="323" width="3" height="8" fill="#000"/>
<rect x="207" y="324" width="1" height="6" fill="#fff"/>
<rect x="211" y="302" width="1" height="30" fill="#000"/>
<rect x="210" y="315" width="3" height="8" fill="#000"/>
<rect x="211" y="316" width="1" height="6" fill="#fff"/>
<rect x="215" y="290" width="1" height="28" fill="#000"/>
<rect x="214" y="300" width="3" height="17" fill="#000"/>
<rect x="215" y="301" width="1" height="15" fill="#fff"/>
<rect x="219" y="284" width="1" height="18" fill="#000"/>
<rect x="218" y="287" width="3" height="14" fill="#000"/>
<rect x="219" y="288" width="1" height="12" fill="#fff"/>
<rect x="223" y="276" width="1" height="11" fill="#000"/>
<rect x="222" y="277" width="3" height="6" fill="#000"/>
<rect x="223" y="278" width="1" height="4" fill="#fff"/>
<rect x="227" y="275" width="1" height="10" fill="#000"/>
<rect x="226" y="277" width="3" height="5" fill="#000"/>
<rect x="231" y="271" width="1" height="15" fill="#000"/>
<rect x="230" y="276" width="3" height="6" fill="#000"/>
<rect x="231" y="277" width="1" height="4" fill="#fff"/>
<rect x="235" y="264" width="1" height="23" fill="#000"/>
<rect x="234" y="270" width="3" height="7" fill="#000"/>
<rect x="235" y="271" width="1" height="5" fill="#fff"/>
<rect x="239" y="246" width="1" height="26" fill="#000"/>
<rect x="238" y="260" width="3" height="12" fill="#000"/>
<rect x="239" y="261" width="1" height="10" fill="#fff"/>
<rect x="243" y="255" width="1" height="10" fill="#000"/>
<rect x="242" y="260" width="3" height="4" fill="#000"/>
<rect x="247" y="255" width="1" height="12" fill="#000"/>
<rect x="246" y="258" width="3" height="6" fill="#000"/>
<rect x="247" y="259" width="1" height="4" fill="#fff"/>
<rect x="251" y="253" width="1" height="10" fill="#000"/>
<rect x="250" y="257" width="3" height="1" fill="#000"/>
<rect x="255" y="251" width="1" height="30" fill="#000"/>
<rect x="254" y="256" width="3" height="10" fill="#000"/>
<rect x="259" y="230" width="1" height="47" fill="#000"/>
<rect x="258" y="242" width="3" height="25" fill="#000"/>
<rect x="259" y="243" width="1" height="23" fill="#fff"/>
<rect x="263" y="237" width="1" height="30" fill="#000"/>
<rect x="262" y="242" width="3" height="19" fill="#000"/>
<rect x="267" y="255" width="1" height="19" fill="#000"/>
<rect x="266" y="260" width="3" height="2" fill="#000"/>
<rect x="271" y="260" width="1" height="10" fill="#000"/>
<rect x="270" y="261" width="3" height="5" fill="#000"/>
<rect x="275" y="264" width="1" height="10" fill="#000"/>
<rect x="274" y="264" width="3" height="9" fill="#000"/>
<rect x="279" y="267" width="1" height="22" fill="#000"/>
<rect x="278" y="271" width="3" height="11" fill="#000"/>
<rect x="283" y="269" width="1" height="16" fill="#000"/>
<rect x="282" y="274" width="3" height="8" fill="#000"/>
<rect x="283" y="275" width="1" height="6" fill="#fff"/>
<rect x="287" y="257" width="1" height="23" fill="#000"/>
<rect x="286" y="275" width="3" height="1" fill="#000"/>
<rect x="291" y="273" width="1" height="27" fill="#000"/>
<rect x="290" y="275" width="3" height="23" fill="#000"/>
<rect x="295" y="286" width="1" height="13" fill="#000"/>
<rect x="294" y="288" width="3" height="10" fill="#000"/>
<rect x="295" y="289" width="1" height="8" fill="#fff"/>
<rect x="299" y="280" width="1" height="12" fill="#000"/>
<rect x="298" y="288" width="3" height="1" fill="#000"/>
<rect x="303" y="281" width="1" height="13" fill="#000"/>
<rect x="302" y="287" width="3" height="5" fill="#000"/>
<rect x="307" y="282" width="1" height="18" fill="#000"/>
<rect x="306" y="288" width="3" height="3" fill="#000"/>
<rect x="307" y="289" width="1" height="1" fill="#fff"/>
<rect x="311" y="277" width="1" height="22" fill="#000"/>
<rect x="310" y="281" width="3" height="8" fill="#000"/>
<rect x="311" y="282" width="1" height="6" fill="#fff"/>
<rect x="315" y="265" width="1" height="20" fill="#000"/>
<rect x="314" y="269" width="3" height="14" fill="#000"/>
<rect x="315" y="270" width="1" height="12" fill="#fff"/>
<rect x="319" y="264" width="1" height="13" fill="#000"/>
<rect x="318" y="267" width="3" height="9" fill="#000"/>
<rect x="323" y="272" width="1" height="9" fill="#000"/>
<rect x="322" y="272" width="3" height="4" fill="#000"/>
<rect x="323" y="273" width="1" height="2" fill="#fff"/>
<rect x="327" y="260" width="1" height="14" fill="#000"/>
<rect x="326" y="270" width="3" height="4" fill="#000"/>
<rect x="327" y="271" width="1" height="2" fill="#fff"/>
<rect x="331" y="239" width="1" height="36" fill="#000"/>
<rect x="330" y="244" width="3" height="28" fill="#000"/>
<rect x="331" y="245" width="1" height="26" fill="#fff"/>
<rect x="335" y="223" width="1" height="24" fill="#000"/>
<rect x="334" y="231" width="3" height="14" fill="#000"/>
<rect x="335" y="232" width="1" height="12" fill="#fff"/>
<rect x="339" y="225" width="1" height="17" fill="#000"/>
<rect x="338" y="231" width="3" height="1" fill="#000"/>
<rect x="343" y="221" width="1" height="11" fill="#000"/>
<rect x="342" y="223" width="3" height="4" fill="#000"/>
<rect x="343" y="224" width="1" height="2" fill="#fff"/>
<rect x="347" y="214" width="1" height="11" fill="#000"/>
<rect x="346" y="215" width="3" height="10" fill="#000"/>
<rect x="347" y="216" width="1" height="8" fill="#fff"/>
<rect x="351" y="205" width="1" height="20" fill="#000"/>
<rect x="350" y="215" width="3" height="5" fill="#000"/>
<rect x="355" y="200" width="1" height="29" fill="#000"/>
<rect x="354" y="218" width="3" height="10" fill="#000"/>
<rect x="359" y="225" width="1" height="19" fill="#000"/>
<rect x="358" y="226" width="3" height="10" fill="#000"/>
<rect x="363" y="222" width="1" height="36" fill="#000"/>
<rect x="362" y="234" width="3" height="18" fill="#000"/>
<rect x="367" y="243" width="1" height="15" fill="#000"/>
<rect x="366" y="251" width="3" height="1" fill="#000"/>
<rect x="371" y="250" width="1" height="9" fill="#000"/>
<rect x="370" y="250" width="3" height="5" fill="#000"/>
<rect x="375" y="224" width="1" height="35" fill="#000"/>
<rect x="374" y="232" width="3" height="24" fill="#000"/>
<rect x="375" y="233" width="1" height="22" fill="#fff"/>
<rect x="379" y="227" width="1" height="41" fill="#000"/>
<rect x="378" y="232" width="3" height="30" fill="#000"/>
<rect x="383" y="248" width="1" height="21" fill="#000"/>
<rect x="382" y="260" width="3" height="7" fill="#000"/>
<rect x="387" y="263" width="1" height="27" fill="#000"/>
<rect x="386" y="264" width="3" height="22" fill="#000"/>
<rect x="391" y="278" width="1" height="14" fill="#000"/>
<rect x="390" y="285" width="3" height="3" fill="#000"/>
<rect x="395" y="255" width="1" height="36" fill="#000"/>
<rect x="394" y="264" width="3" height="24" fill="#000"/>
<rect x="395" y="265" width="1" height="22" fill="#fff"/>
<rect x="399" y="244" width="1" height="22" fill="#000"/>
<rect x="398" y="252" width="3" height="13" fill="#000"/>
<rect x="399" y="253" width="1" height="11" fill="#fff"/>
<rect x="403" y="247" width="1" height="29" fill="#000"/>
<rect x="402" y="252" width="3" height="9" fill="#000"/>
<rect x="407" y="243" width="1" height="24" fill="#000"/>
<rect x="406" y="257" width="3" height="1" fill="#000"/>
<rect x="411" y="254" width="1" height="20" fill="#000"/>
<rect x="410" y="256" width="3" height="13" fill="#000"/>
<rect x="415" y="257" width="1" height="14" fill="#000"/>
<rect x="414" y="261" width="3" height="8" fill="#000"/>
<rect x="415" y="262" width="1" height="6" fill="#fff"/>
<rect x="419" y="238" width="1" height="25" fill="#000"/>
<rect x="418" y="240" width="3" height="22" fill="#000"/>
<rect x="419" y="241" width="1" height="20" fill="#fff"/>
<rect x="423" y="240" width="1" height="19" fill="#000"/>
<rect x="422" y="240" width="3" height="19" fill="#000"/>
<rect x="427" y="253" width="1" height="25" fill="#000"/>
<rect x="426" y="256" width="3" height="13" fill="#000"/>
<rect x="431" y="267" width="1" height="30" fill="#000"/>
<rect x="430" y="267" width="3" height="20" fill="#000"/>
<rect x="435" y="284" width="1" height="16" fill="#000"/>
<rect x="434" y="284" width="3" height="13" fill="#000"/>
<rect x="439" y="285" width="1" height="15" fill="#000"/>
<rect x="438" y="286" width="3" height="11" fill="#000"/>
<rect x="439" y="287" width="1" height="9" fill="#fff"/>
<rect x="443" y="285" width="1" height="15" fill="#000"/>
<rect x="442" y="285" width="3" height="12" fill="#000"/>
<rect x="447" y="282" width="1" height="18" fill="#000"/>
<rect x="446" y="284" width="3" height="13" fill="#000"/>
<rect x="447" y="285" width="1" height="11" fill="#fff"/>
<rect x="451" y="284" width="1" height="16" fill="#000"/>
<rect x="450" y="284" width="3" height="12" fill="#000"/>
<rect x="455" y="286" width="1" height="31" fill="#000"/>
<rect x="454" y="294" width="3" height="21" fill="#000"/>
<rect x="459" y="311" width="1" height="15" fill="#000"/>
<rect x="458" y="313" width="3" height="12" fill="#000"/>
<rect x="463" y="299" width="1" height="13" fill="#000"/>
<rect x="462" y="304" width="3" height="4" fill="#000"/>
<rect x="463" y="305" width="1" height="2" fill="#fff"/>
<rect x="467" y="290" width="1" height="15" fill="#000"/>
<rect x="466" y="294" width="3" height="11" fill="#000"/>
<rect x="467" y="295" width="1" height="9" fill="#fff"/>
<rect x="471" y="290" width="1" height="18" fill="#000"/>
<rect x="470" y="293" width="3" height="5" fill="#000"/>
<rect x="475" y="276" width="1" height="36" fill="#000"/>
<rect x="474" y="277" width="3" height="21" fill="#000"/>
<rect x="475" y="278" width="1" height="19" fill="#fff"/>
<rect x="479" y="251" width="1" height="27" fill="#000"/>
<rect x="478" y="258" width="3" height="19" fill="#000"/>
<rect x="479" y="259" width="1" height="17" fill="#fff"/>
<rect x="483" y="252" width="1" height="22" fill="#000"/>
<rect x="482" y="258" width="3" height="4" fill="#000"/>
<rect x="487" y="243" width="1" height="25" fill="#000"/>
<rect x="486" y="255" width="3" height="8" fill="#000"/>
<rect x="487" y="256" width="1" height="6" fill="#fff"/>
<rect x="491" y="244" width="1" height="21" fill="#000"/>
<rect x="490" y="246" width="3" height="10" fill="#000"/>
<rect x="491" y="247" width="1" height="8" fill="#fff"/>
<rect x="495" y="243" width="1" height="25" fill="#000"/>
<rect x="494" y="246" width="3" height="10" fill="#000"/>
<rect x="499" y="251" width="1" height="23" fill="#000"/>
<rect x="498" y="254" width="3" height="3" fill="#000"/>
<rect x="503" y="239" width="1" height="22" fill="#000"/>
<rect x="502" y="250" width="3" height="6" fill="#000"/>
<rect x="503" y="251" width="1" height="4" fill="#fff"/>
<rect x="507" y="244" width="1" height="20" fill="#000"/>
<rect x="506" y="251" width="3" height="1" fill="#000"/>
<rect x="511" y="243" width="1" height="17" fill="#000"/>
<rect x="510" y="251" width="3" height="1" fill="#000"/>
<rect x="515" y="240" width="1" height="14" fill="#000"/>
<rect x="514" y="251" width="3" height="1" fill="#000"/>
<rect x="519" y="234" width="1" height="22" fill="#000"/>
<rect x="518" y="241" width="3" height="11" fill="#000"/>
<rect x="519" y="242" width="1" height="9" fill="#fff"/>
<rect x="523" y="226" width="1" height="26" fill="#000"/>
<rect x="522" y="228" width="3" height="13" fill="#000"/>
<rect x="523" y="229" width="1" height="11" fill="#fff"/>
<rect x="527" y="206" width="1" height="24" fill="#000"/>
<rect x="526" y="210" width="3" height="19" fill="#000"/>
<rect x="527" y="211" width="1" height="17" fill="#fff"/>
<rect x="531" y="169" width="1" height="60" fill="#000"/>
<rect x="530" y="173" width="3" height="38" fill="#000"/>
<rect x="531" y="174" width="1" height="36" fill="#fff"/>
<rect x="535" y="164" width="1" height="25" fill="#000"/>
<rect x="534" y="165" width="3" height="10" fill="#000"/>
<rect x="535" y="166" width="1" height="8" fill="#fff"/>
<rect x="539" y="144" width="1" height="31" fill="#000"/>
<rect x="538" y="153" width="3" height="14" fill="#000"/>
<rect x="539" y="154" width="1" height="12" fill="#fff"/>
<rect x="543" y="113" width="1" height="46" fill="#000"/>
<rect x="542" y="120" width="3" height="34" fill="#000"/>
<rect x="543" y="121" width="1" height="32" fill="#fff"/>
<rect x="547" y="33" width="1" height="91" fill="#000"/>
<rect x="546" y="49" width="3" height="74" fill="#000"/>
<rect x="547" y="50" width="1" height="72" fill="#fff"/>
<rect x="551" y="43" width="1" height="40" fill="#000"/>
<rect x="550" y="49" width="3" height="29" fill="#000"/>
<rect x="555" y="50" width="1" height="38" fill="#000"/>
<rect x="554" y="71" width="3" height="7" fill="#000"/>
<rect x="555" y="72" width="1" height="5" fill="#fff"/>
<rect x="559" y="64" width="1" height="39" fill="#000"/>
<rect x="558" y="71" width="3" height="29" fill="#000"/>
<rect x="563" y="75" width="1" height="25" fill="#000"/>
<rect x="562" y="81" width="3" height="18" fill="#000"/>
<rect x="563" y="82" width="1" height="16" fill="#fff"/>
<rect x="567" y="68" width="1" height="28" fill="#000"/>
<rect x="566" y="81" width="3" height="4" fill="#000"/>
<rect x="571" y="39" width="1" height="50" fill="#000"/>
<rect x="570" y="82" width="3" height="4" fill="#000"/>
<rect x="571" y="83" width="1" height="2" fill="#fff"/>
<rect x="575" y="64" width="1" height="37" fill="#000"/>
<rect x="574" y="64" width="3" height="19" fill="#000"/>
<rect x="575" y="65" width="1" height="17" fill="#fff"/>
<rect x="579" y="51" width="1" height="26" fill="#000"/>
<rect x="578" y="64" width="3" height="12" fill="#000"/>
<rect x="583" y="53" width="1" height="29" fill="#000"/>
<rect x="582" y="58" width="3" height="17" fill="#000"/>
<rect x="583" y="59" width="1" height="15" fill="#fff"/>
<rect x="587" y="35" width="1" height="29" fill="#000"/>
<rect x="586" y="38" width="3" height="21" fill="#000"/>
<rect x="587" y="39" width="1" height="19" fill="#fff"/>
<rect x="591" y="20" width="1" height="49" fill="#000"/>
<rect x="590" y="38" width="3" height="29" fill="#000"/>
<rect x="595" y="59" width="1" height="8" fill="#000"/>
<rect x="594" y="65" width="3" height="1" fill="#000"/>
</g>
<text x="227.5" y="340" fill="#0000ff" font-size="10px" textLength="143" lengthAdjust="spacingAndGlyphs">Сильный уровень поддержки</text>
<g shape-rendering="crispEdges">
<rect x="3" y="482" width="1" height="13" fill="#c0c0c0"/>
<rect x="7" y="483" width="1" height="12" fill="#c0c0c0"/>
<rect x="11" y="484" width="1" height="11" fill="#c0c0c0"/>
<rect x="15" y="485" width="1" height="10" fill="#c0c0c0"/>
<rect x="19" y="486" width="1" height="9" fill="#c0c0c0"/>
<rect x="23" y="487" width="1" height="8" fill="#c0c0c0"/>
<rect x="27" y="488" width="1" height="7" fill="#c0c0c0"/>
<rect x="31" y="488" width="1" height="7" fill="#c0c0c0"/>
<rect x="35" y="489" width="1" height="6" fill="#c0c0c0"/>
<rect x="39" y="490" width="1" height="5" fill="#c0c0c0"/>
<rect x="43" y="491" width="1" height="4" fill="#c0c0c0"/>
<rect x="47" y="491" width="1" height="4" fill="#c0c0c0"/>
<rect x="51" y="492" width="1" height="3" fill="#c0c0c0"/>
<rect x="55" y="493" width="1" height="2" fill="#c0c0c0"/>
<rect x="59" y="493" width="1" height="2" fill="#c0c0c0"/>
<rect x="63" y="494" width="1" height="1" fill="#c0c0c0"/>
<rect x="87" y="496" width="1" height="1" fill="#c0c0c0"/>
<rect x="91" y="496" width="1" height="1" fill="#c0c0c0"/>
<rect x="95" y="496" width="1" height="1" fill="#c0c0c0"/>
<rect x="99" y="496" width="1" height="6" fill="#c0c0c0"/>
<rect x="103" y="496" width="1" height="11" fill="#c0c0c0"/>
<rect x="107" y="496" width="1" height="16" fill="#c0c0c0"/>
<rect x="111" y="496" width="1" height="23" fill="#c0c0c0"/>
<rect x="115" y="496" width="1" height="28" fill="#c0c0c0"/>
<rect x="119" y="496" width="1" height="30" fill="#c0c0c0"/>
<rect x="123" y="496" width="1" height="33" fill="#c0c0c0"/>
<rect x="127" y="496" width="1" height="34" fill="#c0c0c0"/>
<rect x="131" y="496" width="1" height="36" fill="#c0c0c0"/>
<rect x="135" y="496" width="1" height="31" fill="#c0c0c0"/>
<rect x="139" y="496" width="1" height="28" fill="#c0c0c0"/>
<rect x="143" y="496" width="1" height="27" fill="#c0c0c0"/>
<rect x="147" y="496" width="1" height="26" fill="#c0c0c0"/>
<rect x="151" y="496" width="1" height="26" fill="#c0c0c0"/>
<rect x="155" y="496" width="1" height="25" fill="#c0c0c0"/>
<rect x="159" y="496" width="1" height="24" fill="#c0c0c0"/>
<rect x="163" y="496" width="1" height="24" fill="#c0c0c0"/>
<rect x="167" y="496" width="1" height="24" fill="#c0c0c0"/>
<rect x="171" y="496" width="1" height="23" fill="#c0c0c0"/>
<rect x="175" y="496" width="1" height="23" fill="#c0c0c0"/>
<rect x="179" y="496" width="1" height="22" fill="#c0c0c0"/>
<rect x="183" y="496" width="1" height="21" fill="#c0c0c0"/>
<rect x="187" y="496" width="1" height="20" fill="#c0c0c0"/>
<rect x="191" y="496" width="1" height="19" fill="#c0c0c0"/>
<rect x="195" y="496" width="1" height="19" fill="#c0c0c0"/>
<rect x="199" y="496" width="1" height="18" fill="#c0c0c0"/>
<rect x="203" y="496" width="1" height="18" fill="#c0c0c0"/>
<rect x="207" y="496" width="1" height="15" fill="#c0c0c0"/>
<rect x="211" y="496" width="1" height="12" fill="#c0c0c0"/>
<rect x="215" y="496" width="1" height="7" fill="#c0c0c0"/>
<rect x="223" y="488" width="1" height="7" fill="#c0c0c0"/>
<rect x="227" y="483" width="1" height="12" fill="#c0c0c0"/>
<rect x="231" y="478" width="1" height="17" fill="#c0c0c0"/>
<rect x="235" y="473" width="1" height="22" fill="#c0c0c0"/>
<rect x="239" y="468" width="1" height="27" fill="#c0c0c0"/>
<rect x="243" y="464" width="1" height="31" fill="#c0c0c0"/>
<rect x="247" y="461" width="1" height="34" fill="#c0c0c0"/>
<rect x="251" y="458" width="1" height="37" fill="#c0c0c0"/>
<rect x="255" y="459" width="1" height="36" fill="#c0c0c0"/>
<rect x="259" y="452" width="1" height="43" fill="#c0c0c0"/>
<rect x="263" y="456" width="1" height="39" fill="#c0c0c0"/>
<rect x="267" y="458" width="1" height="37" fill="#c0c0c0"/>
<rect x="271" y="460" width="1" height="35" fill="#c0c0c0"/>
<rect x="275" y="463" width="1" height="32" fill="#c0c0c0"/>
<rect x="279" y="468" width="1" height="27" fill="#c0c0c0"/>
<rect x="283" y="471" width="1" height="24" fill="#c0c0c0"/>
<rect x="287" y="475" width="1" height="20" fill="#c0c0c0"/>
<rect x="291" y="480" width="1" height="15" fill="#c0c0c0"/>
<rect x="295" y="484" width="1" height="11" fill="#c0c0c0"/>
<rect x="299" y="487" width="1" height="8" fill="#c0c0c0"/>
<rect x="303" y="491" width="1" height="4" fill="#c0c0c0"/>
<rect x="307" y="492" width="1" height="3" fill="#c0c0c0"/>
<rect x="311" y="493" width="1" height="2" fill="#c0c0c0"/>
<rect x="315" y="491" width="1" height="4" fill="#c0c0c0"/>
<rect x="319" y="488" width="1" height="7" fill="#c0c0c0"/>
<rect x="323" y="486" width="1" height="9" fill="#c0c0c0"/>
<rect x="327" y="484" width="1" height="11" fill="#c0c0c0"/>
<rect x="331" y="481" width="1" height="14" fill="#c0c0c0"/>
<rect x="335" y="476" width="1" height="19" fill="#c0c0c0"/>
<rect x="339" y="470" width="1" height="25" fill="#c0c0c0"/>
<rect x="343" y="465" width="1" height="30" fill="#c0c0c0"/>
<rect x="347" y="460" width="1" height="35" fill="#c0c0c0"/>
<rect x="351" y="456" width="1" height="39" fill="#c0c0c0"/>
<rect x="355" y="452" width="1" height="43" fill="#c0c0c0"/>
<rect x="359" y="456" width="1" height="39" fill="#c0c0c0"/>
<rect x="363" y="464" width="1" height="31" fill="#c0c0c0"/>
<rect x="367" y="470" width="1" height="25" fill="#c0c0c0"/>
<rect x="371" y="472" width="1" height="23" fill="#c0c0c0"/>
<rect x="375" y="470" width="1" height="25" fill="#c0c0c0"/>
<rect x="379" y="474" width="1" height="21" fill="#c0c0c0"/>
<rect x="383" y="481" width="1" height="14" fill="#c0c0c0"/>
<rect x="387" y="488" width="1" height="7" fill="#c0c0c0"/>
<rect x="419" y="496" width="1" height="1" fill="#c0c0c0"/>
<rect x="423" y="496" width="1" height="2" fill="#c0c0c0"/>
<rect x="427" y="496" width="1" height="2" fill="#c0c0c0"/>
<rect x="431" y="496" width="1" height="3" fill="#c0c0c0"/>
<rect x="435" y="496" width="1" height="10" fill="#c0c0c0"/>
<rect x="439" y="496" width="1" height="13" fill="#c0c0c0"/>
<rect x="443" y="496" width="1" height="17" fill="#c0c0c0"/>
<rect x="447" y="496" width="1" height="17" fill="#c0c0c0"/>
<rect x="451" y="496" width="1" height="19" fill="#c0c0c0"/>
<rect x="455" y="496" width="1" height="25" fill="#c0c0c0"/>
<rect x="459" y="496" width="1" height="31" fill="#c0c0c0"/>
<rect x="463" y="496" width="1" height="31" fill="#c0c0c0"/>
<rect x="467" y="496" width="1" height="30" fill="#c0c0c0"/>
<rect x="471" y="496" width="1" height="26" fill="#c0c0c0"/>
<rect x="475" y="496" width="1" height="23" fill="#c0c0c0"/>
<rect x="479" y="496" width="1" height="15" fill="#c0c0c0"/>
<rect x="483" y="496" width="1" height="9" fill="#c0c0c0"/>
<rect x="487" y="496" width="1" height="2" fill="#c0c0c0"/>
<rect x="491" y="493" width="1" height="2" fill="#c0c0c0"/>
<rect x="495" y="489" width="1" height="6" fill="#c0c0c0"/>
<rect x="499" y="486" width="1" height="9" fill="#c0c0c0"/>
<rect x="503" y="484" width="1" height="11" fill="#c0c0c0"/>
<rect x="507" y="482" width="1" height="13" fill="#c0c0c0"/>
<rect x="511" y="481" width="1" height="14" fill="#c0c0c0"/>
<rect x="515" y="480" width="1" height="15" fill="#c0c0c0"/>
<rect x="519" y="477" width="1" height="18" fill="#c0c0c0"/>
<rect x="523" y="473" width="1" height="22" fill="#c0c0c0"/>
<rect x="527" y="467" width="1" height="28" fill="#c0c0c0"/>
<rect x="531" y="455" width="1" height="40" fill="#c0c0c0"/>
<rect x="535" y="445" width="1" height="50" fill="#c0c0c0"/>
<rect x="539" y="435" width="1" height="60" fill="#c0c0c0"/>
<rect x="543" y="422" width="1" height="73" fill="#c0c0c0"/>
<rect x="547" y="399" width="1" height="96" fill="#c0c0c0"/>
<rect x="551" y="386" width="1" height="109" fill="#c0c0c0"/>
<rect x="555" y="377" width="1" height="118" fill="#c0c0c0"/>
<rect x="559" y="374" width="1" height="121" fill="#c0c0c0"/>
<rect x="563" y="372" width="1" height="123" fill="#c0c0c0"/>
<rect x="567" y="372" width="1" height="123" fill="#c0c0c0"/>
<rect x="571" y="373" width="1" height="122" fill="#c0c0c0"/>
<rect x="575" y="372" width="1" height="123" fill="#c0c0c0"/>
<rect x="579" y="373" width="1" height="122" fill="#c0c0c0"/>
<rect x="583" y="374" width="1" height="121" fill="#c0c0c0"/>
<rect x="587" y="375" width="1" height="120" fill="#c0c0c0"/>
<rect x="591" y="376" width="1" height="119" fill="#c0c0c0"/>
<rect x="595" y="380" width="1" height="115" fill="#c0c0c0"/>
</g>
<polyline points="3.0,480.8 11.0,480.8 19.0,484.1 39.0,484.9 46.0,487.9 66.0,492.5 84.0,495.0 101.0,498.1 112.0,503.2 124.0,514.6 134.6,523.0 139.6,525.5 152.0,525.5 165.0,522.2 180.0,519.7 190.0,516.9 200.0,515.9 214.0,513.0 221.0,509.3 228.0,503.0 235.3,494.6 242.3,485.4 249.4,475.6 256.4,468.4 263.5,462.8 267.7,460.0 277.6,458.2 284.6,461.0 291.7,465.5 300.0,470.5 309.6,480.6 322.0,487.0 330.0,487.7 337.6,485.2 345.0,479.0 350.0,473.0 360.0,464.9 370.5,460.8 378.0,462.3 385.7,467.4 396.0,478.6 406.0,487.0 416.0,493.3 426.0,494.0 436.5,497.0 451.7,504.7 459.3,512.4 467.0,517.4 474.6,520.0 482.0,519.5 490.0,515.0 497.4,506.5 507.6,494.6 511.4,490.8 519.5,484.6 527.5,479.3 538.0,466.7 543.6,456.5 549.0,443.1 554.3,428.3 559.7,413.6 567.7,396.2 575.8,382.8 581.0,375.5 586.5,372.9 591.8,372.1 596.0,372.9" fill="none" stroke="#ff0000" stroke-width="2" stroke-linejoin="round" shape-rendering="crispEdges"/>
<polyline points="3.0,643.5 7.5,628.8 10.7,611.4 16.0,602.1 21.4,615.5 26.7,619.5 33.4,615.5 40.0,608.8 45.4,616.8 50.7,630.1 60.1,630.1 65.4,635.5 70.0,643.5 76.1,632.8 80.1,618.1 84.9,604.8 90.8,596.8 96.1,604.8 100.2,618.1 104.7,650.2 108.2,676.9 112.2,695.6 115.4,708.9 120.2,704.9 124.2,698.3 130.9,690.2 136.2,686.2 140.2,679.6 145.6,666.2 150.9,655.5 156.2,642.2 161.6,631.5 165.6,630.1 170.9,636.8 178.0,623.5 183.4,614.1 190.0,626.1 195.4,640.8 199.4,646.2 204.7,638.2 210.0,623.5 216.7,596.8 223.4,572.7 228.8,556.7 234.0,553.5 240.8,558.0 247.5,564.7 255.5,566.8 262.0,571.4 268.8,586.1 274.2,612.8 279.5,644.8 284.8,668.9 290.2,683.6 298.2,694.3 303.5,696.1 308.9,691.6 314.2,680.9 319.6,658.2 323.6,634.2 327.6,615.5 332.9,594.1 338.3,572.7 343.6,560.7 350.7,553.5 356.0,559.4 360.0,572.7 364.6,591.4 368.0,618.1 372.0,636.8 377.4,648.8 382.2,658.2 386.0,674.2 389.4,687.6 393.4,702.3 397.4,698.3 401.4,679.6 405.4,660.9 410.0,650.2 414.8,644.8 420.1,635.5 424.1,627.5 428.1,622.1 432.1,632.8 435.6,652.9 438.8,674.2 442.8,687.6 448.2,692.9 453.5,696.9 460.2,703.6 465.5,699.6 469.5,687.6 473.5,666.2 477.6,642.2 481.6,615.5 485.6,588.7 489.6,571.4 494.9,563.4 500.3,562.0 507.0,565.2 513.6,567.9 518.4,568.3 524.0,561.9 529.6,554.8 535.3,550.6 540.9,549.2 546.5,550.6 552.1,556.2 557.7,566.1 561.9,574.5 567.5,582.9 573.2,582.3 578.8,579.5 584.4,575.9 590.0,573.1 594.2,574.5" fill="none" stroke="#ff0000" stroke-width="1" stroke-linejoin="round" stroke-dasharray="3 3" shape-rendering="crispEdges"/>
<polyline points="3.0,632.8 8.0,599.4 11.2,592.8 14.7,608.8 19.2,622.1 25.4,618.1 31.5,611.4 35.3,614.1 39.5,601.6 43.5,622.1 47.5,625.6 51.5,640.8 55.6,623.5 60.9,628.8 64.1,638.2 67.3,651.5 71.6,640.8 76.1,615.5 80.1,602.1 83.6,595.4 86.8,603.4 91.3,590.1 94.8,604.8 98.3,623.5 101.5,658.2 104.7,684.9 108.2,700.9 112.2,708.9 115.4,714.8 118.9,698.3 122.9,691.6 127.7,684.9 131.4,692.4 134.9,684.9 138.9,676.9 142.9,663.5 147.7,658.2 151.7,644.8 155.4,632.8 159.5,621.3 163.5,634.2 167.7,638.2 171.5,632.8 175.3,619.5 183.4,606.9 188.7,628.8 195.4,652.3 200.7,640.8 207.4,615.5 214.0,588.7 223.4,556.7 228.2,550.8 234.0,554.0 240.8,560.7 247.5,567.9 252.8,566.0 259.5,568.7 263.5,578.1 267.5,588.7 272.8,623.5 279.5,672.9 283.5,679.6 287.5,683.6 291.5,690.2 300.0,699.6 303.5,692.4 307.5,690.8 311.5,682.2 316.4,658.2 319.6,631.5 323.6,608.0 327.6,606.1 331.6,580.7 335.6,567.4 341.0,558.0 347.5,550.0 352.0,555.4 356.0,570.0 361.4,602.1 366.7,634.2 371.5,655.5 376.0,646.2 380.0,656.9 384.0,676.9 388.0,704.9 391.3,711.6 394.8,698.3 398.8,676.9 403.6,652.9 407.3,643.5 410.8,647.5 416.1,640.8 420.1,627.5 423.6,616.0 427.6,620.8 430.8,644.8 433.5,674.2 436.2,683.6 440.2,692.9 444.2,700.9 446.8,690.2 450.0,695.6 454.8,699.6 459.4,711.6 464.2,695.6 468.2,676.9 472.2,655.5 476.2,626.1 480.2,591.4 483.7,572.7 486.9,564.7 490.9,561.5 494.9,562.0 500.3,562.6 504.3,566.0 509.6,567.4 515.0,570.3 519.8,564.7 525.4,553.4 531.0,548.7 535.3,547.8 540.9,549.8 546.5,551.5 552.1,561.9 556.3,568.9 559.1,578.7 563.3,581.5 568.1,585.2 573.2,580.1 577.4,578.1 581.6,577.3 587.2,568.3 592.0,574.5 595.6,585.7" fill="none" stroke="#20b2aa" stroke-width="1" stroke-linejoin="round" shape-rendering="crispEdges"/>
<g shape-rendering="crispEdges" fill="#000">
<rect x="2" y="2" width="1" height="358" fill="#000"/>
<rect x="2" y="361" width="1" height="179" fill="#000"/>
<rect x="2" y="541" width="1" height="176" fill="#000"/>
<rect x="2" y="2" width="670" height="1" fill="#000"/>
<rect x="2" y="359" width="670" height="1" fill="#000"/>
<rect x="2" y="361" width="670" height="1" fill="#000"/>
<rect x="2" y="539" width="670" height="1" fill="#000"/>
<rect x="2" y="541" width="670" height="1" fill="#000"/>
<rect x="2" y="716" width="670" height="1" fill="#000"/>
<rect x="671" y="2" width="1" height="715" fill="#000"/>
</g>
<g shape-rendering="crispEdges">
<rect x="672" y="5" width="2" height="1" fill="#000"/>
<rect x="672" y="37" width="2" height="1" fill="#000"/>
<rect x="672" y="69" width="2" height="1" fill="#000"/>
<rect x="672" y="101" width="2" height="1" fill="#000"/>
<rect x="672" y="133" width="2" height="1" fill="#000"/>
<rect x="672" y="165" width="2" height="1" fill="#000"/>
<rect x="672" y="197" width="2" height="1" fill="#000"/>
<rect x="672" y="229" width="2" height="1" fill="#000"/>
<rect x="672" y="261" width="2" height="1" fill="#000"/>
<rect x="672" y="293" width="2" height="1" fill="#000"/>
<rect x="672" y="325" width="2" height="1" fill="#000"/>
<rect x="672" y="357" width="2" height="1" fill="#000"/>
<rect x="672" y="363" width="1" height="1" fill="#000"/>
<rect x="672" y="495" width="1" height="1" fill="#000"/>
<rect x="672" y="539" width="1" height="1" fill="#000"/>
<rect x="672" y="543" width="1" height="1" fill="#000"/>
<rect x="672" y="577" width="1" height="1" fill="#000"/>
<rect x="672" y="682" width="1" height="1" fill="#000"/>
<rect x="672" y="710" width="1" height="1" fill="#000"/>
<rect x="3" y="717" width="1" height="4" fill="#000"/>
<rect x="67" y="717" width="1" height="4" fill="#000"/>
<rect x="131" y="717" width="1" height="4" fill="#000"/>
<rect x="195" y="717" width="1" height="4" fill="#000"/>
<rect x="259" y="717" width="1" height="4" fill="#000"/>
<rect x="323" y="717" width="1" height="4" fill="#000"/>
<rect x="387" y="717" width="1" height="4" fill="#000"/>
<rect x="451" y="717" width="1" height="4" fill="#000"/>
<rect x="515" y="717" width="1" height="4" fill="#000"/>
<rect x="579" y="717" width="1" height="4" fill="#000"/>
</g>
<text x="677.5" y="8.1" fill="#000">1.04160</text>
<text x="677.5" y="72.1" fill="#000">1.02880</text>
<text x="677.5" y="104.1" fill="#000">1.02235</text>
<text x="677.5" y="136.1" fill="#000">1.01595</text>
<text x="677.5" y="200.1" fill="#000">1.00315</text>
<text x="677.5" y="232.1" fill="#000">0.99675</text>
<text x="677.5" y="264.1" fill="#000">0.99030</text>
<text x="677.5" y="360.1" fill="#000">0.97110</text>
<rect x="673" y="59" width="36" height="11" fill="#000" shape-rendering="crispEdges"/>
<text x="677.5" y="68.5" fill="#fff">1.02957</text>
<rect x="673" y="14" width="36" height="11" fill="#008080" shape-rendering="crispEdges"/>
<text x="677.5" y="22.9" fill="#fff">1.03850</text>
<rect x="673" y="32" width="36" height="11" fill="#008080" shape-rendering="crispEdges"/>
<text x="677.5" y="40.9" fill="#fff">1.03500</text>
<rect x="673" y="42" width="36" height="11" fill="#008080" shape-rendering="crispEdges"/>
<text x="677.5" y="50.9" fill="#fff">1.03300</text>
<rect x="673" y="64" width="36" height="11" fill="#008080" shape-rendering="crispEdges"/>
<text x="677.5" y="72.9" fill="#fff">1.02856</text>
<rect x="673" y="82" width="36" height="11" fill="#008080" shape-rendering="crispEdges"/>
<text x="677.5" y="90.9" fill="#fff">1.02500</text>
<rect x="673" y="92" width="36" height="11" fill="#008080" shape-rendering="crispEdges"/>
<text x="677.5" y="100.9" fill="#fff">1.02300</text>
<rect x="673" y="114" width="36" height="11" fill="#008080" shape-rendering="crispEdges"/>
<text x="677.5" y="122.9" fill="#fff">1.01850</text>
<rect x="673" y="147" width="36" height="11" fill="#008080" shape-rendering="crispEdges"/>
<text x="677.5" y="155.9" fill="#fff">1.01200</text>
<rect x="673" y="159" width="36" height="11" fill="#008080" shape-rendering="crispEdges"/>
<text x="677.5" y="167.9" fill="#fff">1.00950</text>
<rect x="673" y="182" width="36" height="11" fill="#008080" shape-rendering="crispEdges"/>
<text x="677.5" y="190.9" fill="#fff">1.00500</text>
<rect x="673" y="194" width="36" height="11" fill="#008080" shape-rendering="crispEdges"/>
<text x="677.5" y="202.9" fill="#fff">1.00250</text>
<rect x="673" y="209" width="36" height="11" fill="#008080" shape-rendering="crispEdges"/>
<text x="677.5" y="217.9" fill="#fff">0.99950</text>
<rect x="673" y="234" width="36" height="11" fill="#008080" shape-rendering="crispEdges"/>
<text x="677.5" y="242.9" fill="#fff">0.99450</text>
<rect x="673" y="247" width="36" height="11" fill="#008080" shape-rendering="crispEdges"/>
<text x="677.5" y="255.9" fill="#fff">0.99200</text>
<rect x="673" y="269" width="36" height="11" fill="#008080" shape-rendering="crispEdges"/>
<text x="677.5" y="277.9" fill="#fff">0.98750</text>
<rect x="673" y="289" width="36" height="11" fill="#008080" shape-rendering="crispEdges"/>
<text x="677.5" y="297.9" fill="#fff">0.98350</text>
<rect x="673" y="319" width="36" height="11" fill="#008080" shape-rendering="crispEdges"/>
<text x="677.5" y="327.9" fill="#fff">0.97750</text>
<rect x="673" y="336" width="36" height="11" fill="#008080" shape-rendering="crispEdges"/>
<text x="677.5" y="344.9" fill="#fff">0.97400</text>
<rect x="673" y="344" width="36" height="11" fill="#008080" shape-rendering="crispEdges"/>
<text x="677.5" y="352.9" fill="#fff">0.97250</text>
<text x="675.5" y="371.9" fill="#000">0.01071</text>
<text x="675.5" y="497.8" fill="#000">0.00</text>
<text x="675.5" y="535.4" fill="#000">-0.00351</text>
<text x="675.5" y="552.0" fill="#000">100</text>
<text x="675.5" y="580.1" fill="#000">80</text>
<text x="675.5" y="685.1" fill="#000">20</text>
<text x="675.5" y="713.1" fill="#000">0</text>
<rect x="3" y="5" width="210" height="11" fill="#fff"/>
<rect x="3" y="366" width="153" height="11" fill="#fff"/>
<rect x="3" y="546" width="96" height="11" fill="#fff"/>
<rect x="100" y="546" width="35" height="11" fill="#fff"/>
<text x="7.5" y="13.3" fill="#000" textLength="202" lengthAdjust="spacingAndGlyphs" xml:space="preserve">USDCAD,H4  1.02961 1.03081 1.02931 1.02957</text>
<text x="7.5" y="375" fill="#000" textLength="147.5" lengthAdjust="spacingAndGlyphs">MACD(12,26,9) 0.009263 0.009869</text>
<text x="7.5" y="555" fill="#000" textLength="126" lengthAdjust="spacingAndGlyphs">Stoch(13,3,3) 75.1251 81.0436</text>
<text x="6.5" y="711.8" fill="#000" textLength="237.5" lengthAdjust="spacingAndGlyphs">FxPro MT4, © 2001-2011 MetaQuotes Software Corp.</text>
<text x="2.8" y="729.8" fill="#000" font-size="9.3px" textLength="50.8" lengthAdjust="spacingAndGlyphs">22 Aug 2011</text>
<text x="66.8" y="729.8" fill="#000" font-size="9.3px" textLength="55" lengthAdjust="spacingAndGlyphs">25 Aug 12:00</text>
<text x="130.8" y="729.8" fill="#000" font-size="9.3px" textLength="55.3" lengthAdjust="spacingAndGlyphs">30 Aug 04:00</text>
<text x="194.8" y="729.8" fill="#000" font-size="9.3px" textLength="49.4" lengthAdjust="spacingAndGlyphs">1 Sep 20:00</text>
<text x="258.8" y="729.8" fill="#000" font-size="9.3px" textLength="49.4" lengthAdjust="spacingAndGlyphs">6 Sep 12:00</text>
<text x="322.8" y="729.8" fill="#000" font-size="9.3px" textLength="49.4" lengthAdjust="spacingAndGlyphs">9 Sep 04:00</text>
<text x="386.8" y="729.8" fill="#000" font-size="9.3px" textLength="54.2" lengthAdjust="spacingAndGlyphs">13 Sep 20:00</text>
<text x="450.8" y="729.8" fill="#000" font-size="9.3px" textLength="54" lengthAdjust="spacingAndGlyphs">16 Sep 12:00</text>
<text x="514.8" y="729.8" fill="#000" font-size="9.3px" textLength="54.7" lengthAdjust="spacingAndGlyphs">21 Sep 04:00</text>
<text x="578.8" y="729.8" fill="#000" font-size="9.3px" textLength="53.9" lengthAdjust="spacingAndGlyphs">23 Sep 20:00</text>
</svg>
</body></html>
